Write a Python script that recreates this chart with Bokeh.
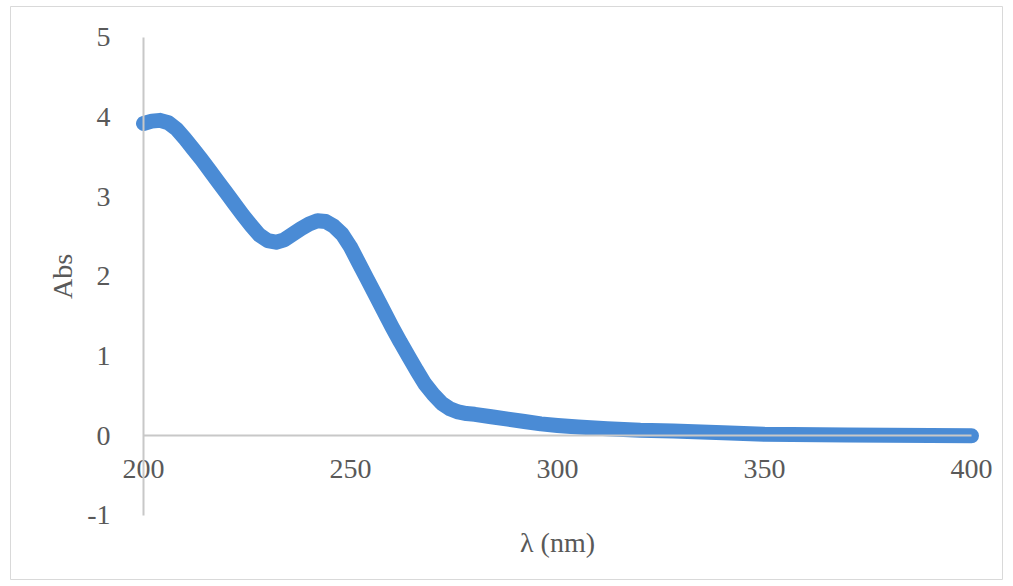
from bokeh.plotting import figure
from bokeh.models import Range1d, FixedTicker, PrintfTickFormatter
from bokeh.embed import file_html
from bokeh.resources import INLINE

# Data (wavelength in nm, absorbance)
wavelength = [200, 202, 204, 206, 208, 210, 212, 214, 216, 218, 220, 222, 224, 226, 228,
              230, 232, 234, 236, 238, 240, 242, 244, 246, 248, 250, 252, 254, 256, 258,
              260, 262, 264, 266, 268, 270, 272, 274, 276, 278, 280, 284, 288, 292, 296,
              300, 305, 312, 320, 328, 340, 350, 370, 400]
absorbance = [3.92, 3.95, 3.96, 3.93, 3.85, 3.73, 3.60, 3.47, 3.33, 3.19, 3.05, 2.91, 2.77, 2.64, 2.52,
              2.45, 2.43, 2.46, 2.53, 2.60, 2.66, 2.70, 2.69, 2.63, 2.53, 2.37, 2.17, 1.97, 1.77, 1.57,
              1.37, 1.18, 1.00, 0.82, 0.65, 0.52, 0.41, 0.34, 0.30, 0.28, 0.27, 0.24, 0.21, 0.18, 0.15,
              0.13, 0.11, 0.09, 0.07, 0.06, 0.04, 0.02, 0.01, 0.00]
x_ticks = [200, 250, 300, 350, 400]
y_ticks = [-1, 0, 1, 2, 3, 4, 5]

FONT = "Liberation Serif"
TXT = "#595959"
AXC = "#c8c8c8"

p = figure(width=1003, height=580, output_backend="svg", toolbar_location=None,
           x_range=Range1d(167.87, 407.73), y_range=Range1d(-1.816, 5.389),
           min_border_left=10, min_border_right=0, min_border_top=6, min_border_bottom=0)
p.outline_line_color = "#d9d9d9"
p.outline_line_width = 1
p.xgrid.visible = False
p.ygrid.visible = False
p.background_fill_color = "white"
p.border_fill_color = "white"

p.line(wavelength, absorbance, line_width=15, line_color="#4a8bd5",
       line_cap="round", line_join="round")

xa = p.xaxis[0]
xa.fixed_location = 0
xa.bounds = (200, 400)
xa.ticker = FixedTicker(ticks=x_ticks)
xa.axis_label = "λ (nm)"

ya = p.yaxis[0]
ya.fixed_location = 200
ya.bounds = (-1, 5)
ya.ticker = FixedTicker(ticks=y_ticks)
ya.axis_label = "Abs"

for ax in (xa, ya):
    ax.formatter = PrintfTickFormatter(format="%d")
    ax.axis_line_color = AXC
    ax.axis_line_width = 2
    ax.major_tick_line_color = None
    ax.minor_tick_line_color = None
    ax.major_label_text_font = FONT
    ax.major_label_text_font_size = "28px"
    ax.major_label_text_color = TXT
    ax.axis_label_text_font = FONT
    ax.axis_label_text_font_size = "28px"
    ax.axis_label_text_color = TXT
    ax.axis_label_text_font_style = "normal"

xa.major_label_standoff = 18
xa.axis_label_standoff = 46
ya.major_label_standoff = 27
ya.axis_label_standoff = 6

open("out.html", "w").write(file_html(p, INLINE))
